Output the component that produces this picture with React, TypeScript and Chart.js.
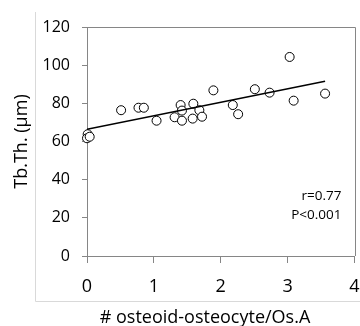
import React, { useEffect, useRef } from "react";
import { Chart, registerables } from "chart.js";

Chart.register(...registerables);

const osteocyteX = [0.01, 0.0, 0.04, 0.51, 0.77, 0.85, 1.04, 1.31, 1.4, 1.42, 1.42, 1.58, 1.59, 1.68, 1.72, 1.89, 2.18, 2.26, 2.51, 2.73, 3.03, 3.09, 3.56];
const tbThY = [63.8, 61.7, 62.5, 76.4, 77.7, 77.7, 70.9, 72.7, 79.1, 76.2, 70.9, 72.0, 79.8, 76.4, 73.0, 86.8, 79.1, 74.3, 87.4, 85.6, 104.3, 81.4, 85.1];
const trendX = [0, 3.56];
const trendY = [66.4, 91.6];
const statLines = ["r=0.77", "P<0.001"];
const xTitle = "# osteoid-osteocyte/Os.A";
const yTitle = "Tb.Th. (µm)";

const FONT = "'Open Sans', sans-serif";
const AXIS = "#868686";

const decorPlugin = {
  id: "decor",
  beforeDraw(chart: any) {
    const ctx = chart.ctx;
    ctx.save();
    ctx.strokeStyle = "#d9d9d9";
    ctx.lineWidth = 1;
    ctx.beginPath();
    ctx.moveTo(35.5, 12);
    ctx.lineTo(35.5, 301.5);
    ctx.lineTo(360, 301.5);
    ctx.stroke();
    ctx.restore();
  },
  afterDraw(chart: any) {
    const ctx = chart.ctx;
    const a = chart.chartArea;
    ctx.save();
    ctx.strokeStyle = AXIS;
    ctx.lineWidth = 1;
    ctx.beginPath();
    ctx.moveTo(a.left, Math.round(a.top) + 0.5);
    ctx.lineTo(Math.round(a.right) + 0.5, Math.round(a.top) + 0.5);
    ctx.lineTo(Math.round(a.right) + 0.5, a.bottom);
    ctx.stroke();
    // stats text
    ctx.fillStyle = "#000";
    ctx.font = `13.5px ${FONT}`;
    ctx.textAlign = "right";
    ctx.textBaseline = "middle";
    ctx.fillText(statLines[0], a.right - 13, a.top + 169);
    ctx.fillText(statLines[1], a.right - 13, a.top + 188);
    // x title
    ctx.font = `18px ${FONT}`;
    ctx.textAlign = "center";
    ctx.fillText(xTitle, 205, 318);
    ctx.restore();
  },
};

export default function App() {
  const ref = useRef<HTMLCanvasElement>(null);
  useEffect(() => {
    document.body.style.margin = "0";
    const points = osteocyteX.map((x, i) => ({ x, y: tbThY[i] }));
    const trend = trendX.map((x, i) => ({ x, y: trendY[i] }));
    const chart = new Chart(ref.current!, {
      type: "scatter",
      data: {
        datasets: [
          {
            type: "line",
            data: trend,
            borderColor: "#000",
            borderWidth: 1.5,
            pointRadius: 0,
            showLine: true,
            fill: false,
          },
          {
            data: points,
            clip: false,
            pointRadius: 4.5,
            pointBackgroundColor: "#fff",
            pointBorderColor: "#000",
            pointBorderWidth: 1,
          },
        ],
      },
      options: {
        animation: false,
        responsive: false,
        devicePixelRatio: 1,
        layout: { padding: { left: 0, right: 5, top: 27, bottom: 0 } },
        plugins: { legend: { display: false }, tooltip: { enabled: false } },
        scales: {
          x: {
            type: "linear",
            min: 0,
            max: 4,
            ticks: { stepSize: 1, color: "#000", font: { family: FONT, size: 18 }, padding: 13 },
            grid: { drawOnChartArea: false, drawTicks: true, tickLength: 7, color: AXIS },
            border: { display: true, color: AXIS },
            afterFit(scale: any) {
              scale.height = 70;
              scale.paddingLeft = 0;
              scale.paddingRight = 0;
            },
          },
          y: {
            min: 0,
            max: 120,
            ticks: { stepSize: 20, color: "#000", font: { family: FONT, size: 16 }, padding: 12 },
            grid: { drawOnChartArea: false, drawTicks: true, tickLength: 5, color: AXIS },
            border: { display: true, color: AXIS },
            title: {
              display: true,
              text: yTitle,
              color: "#000",
              font: { family: FONT, size: 18 },
              padding: { top: 11, bottom: 0 },
            },
            afterFit(scale: any) {
              scale.width = 87;
              scale.paddingTop = 0;
              scale.paddingBottom = 0;
            },
          },
        },
      },
      plugins: [decorPlugin],
    });
    return () => chart.destroy();
  }, []);
  return <canvas ref={ref} width={360} height={326} style={{ display: "block" }} />;
}
